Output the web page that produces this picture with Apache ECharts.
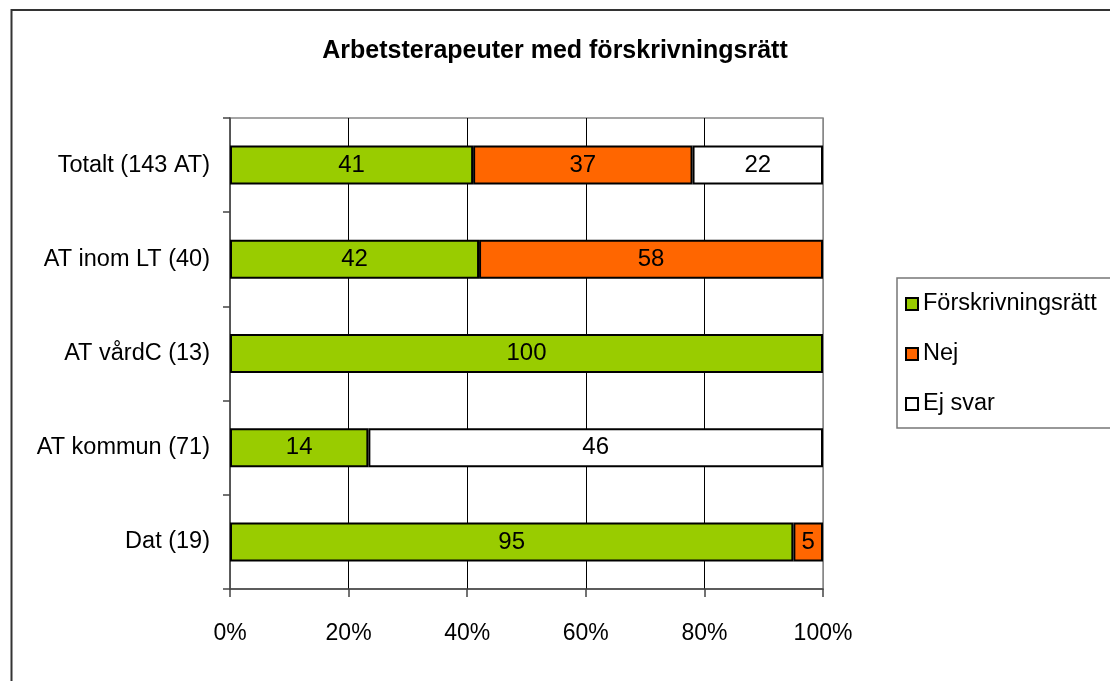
<!DOCTYPE html>
<html>
<head>
<meta charset="utf-8">
<script src="https://cdn.jsdelivr.net/npm/echarts@6/dist/echarts.min.js"></script>
<style>html,body{margin:0;padding:0;background:#fff}#c{width:1110px;height:681px}</style>
</head>
<body>
<div id="c"></div>
<script>
const categories = ['Totalt (143 AT)', 'AT inom LT (40)', 'AT vårdC (13)', 'AT kommun (71)', 'Dat (19)'];
const forskrivning = [41, 42, 100, 14, 95];
const nej = [37, 58, 0, 0, 5];
const ejSvar = [22, 0, 0, 46, 0];
const xTicks = [0, 20, 40, 60, 80, 100];

const FONT = "'Liberation Sans Narrow', 'Arial Narrow', 'Liberation Sans', Arial, sans-serif";
const totals = categories.map((_, i) => forskrivning[i] + nej[i] + ejSvar[i]);
function toPct(arr) {
  return arr.map((v, i) => v === 0 ? null : { value: v / totals[i] * 100, raw: v });
}

const chart = echarts.init(document.getElementById('c'), null, { renderer: 'canvas' });

function mkSeries(name, arr, color) {
  return {
    name: name,
    type: 'bar',
    stack: 'total',
    barWidth: 39,
    data: toPct(arr),
    itemStyle: { color: color, borderColor: '#000', borderWidth: 2 },
    label: {
      show: true,
      position: 'inside',
      color: '#000',
      fontFamily: FONT,
      fontSize: 24,
      formatter: p => (p.data && p.data.raw) ? String(p.data.raw) : ''
    },
    emphasis: { disabled: true }
  };
}

chart.setOption({
  animation: false,
  backgroundColor: '#fff',
  textStyle: { fontFamily: FONT },
  title: {
    text: 'Arbetsterapeuter med förskrivningsrätt',
    left: 'center',
    top: 34,
    textStyle: { fontFamily: FONT, fontSize: 25, fontWeight: 'bold', color: '#000' }
  },
  legend: {
    orient: 'vertical',
    left: 897,
    top: 278,
    padding: [11, 40, 9, 8],
    itemGap: 20,
    itemWidth: 12,
    itemHeight: 12,
    itemTextGap: 12,
    icon: 'rect',
    borderColor: '#777',
    borderWidth: 1.5,
    textStyle: { fontFamily: FONT, fontSize: 23.5, color: '#000', lineHeight: 30 },
    data: ['Förskrivningsrätt', 'Nej', 'Ej svar']
  },
  grid: {
    left: 230, right: 287, top: 118, bottom: 92,
    show: true, borderColor: '#888', borderWidth: 1.5, backgroundColor: 'transparent'
  },
  xAxis: {
    type: 'value',
    min: xTicks[0],
    max: xTicks[xTicks.length - 1],
    interval: 20,
    axisLine: { show: true, lineStyle: { color: '#444', width: 1.5 } },
    axisTick: { show: true, length: 8, lineStyle: { color: '#444', width: 1.5 } },
    axisLabel: { formatter: '{value}%', color: '#000', fontFamily: FONT, fontSize: 23, margin: 33 },
    splitLine: { show: true, lineStyle: { color: ['#888', '#000', '#000', '#000', '#000', '#888'], width: 1 } }
  },
  yAxis: {
    type: 'category',
    inverse: true,
    data: categories,
    axisLine: { show: true, lineStyle: { color: '#444', width: 1.5 } },
    axisTick: { show: true, length: 7, lineStyle: { color: '#444', width: 1.5 } },
    axisLabel: { color: '#000', fontFamily: FONT, fontSize: 23.5, margin: 20 },
    splitLine: { show: false }
  },
  series: [
    mkSeries('Förskrivningsrätt', forskrivning, '#99CC00'),
    mkSeries('Nej', nej, '#FF6600'),
    mkSeries('Ej svar', ejSvar, '#FFFFFF')
  ],
  graphic: [{
    type: 'rect',
    shape: { x: 11.5, y: 10, width: 1300, height: 900 },
    style: { fill: 'none', stroke: '#333', lineWidth: 2 },
    silent: true
  }]
});
</script>
</body>
</html>
